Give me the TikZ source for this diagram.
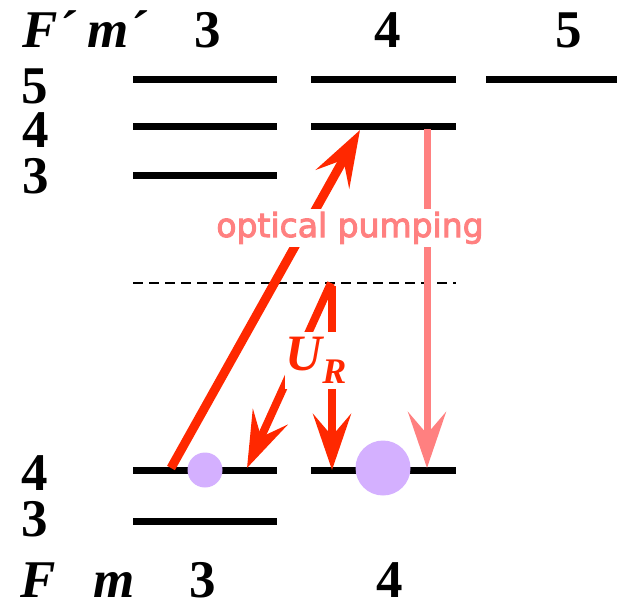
\documentclass[tikz,border=0pt]{standalone}
\usepackage{fontspec}
\setmainfont{Liberation Serif}
\newfontfamily\opfont[FakeBold=3]{DejaVu Sans}
\usetikzlibrary{arrows.meta}
\definecolor{arrred}{RGB}{255,40,0}
\definecolor{arrpink}{RGB}{255,128,128}
\definecolor{atom}{RGB}{212,176,255}
\tikzset{
  level/.style={line width=7pt},
  lbl/.style={font=\fontsize{53}{53}\selectfont\bfseries, inner sep=0pt, anchor=base},
  ilbl/.style={font=\fontsize{53}{53}\selectfont\bfseries\itshape, inner sep=0pt, anchor=base west},
  bigtip/.style={-{Stealth[length=56pt,width=38pt,inset=22pt]}},
}
\begin{document}
\begin{tikzpicture}[x=1pt,y=-1pt]
\useasboundingbox (0,0) rectangle (617,603);
% header labels
\node[ilbl] (Fp) at (22,47) {F´};
\node[ilbl] (mp) at (87,47) {m´};
\node[lbl] (mp3) at (208,47) {3};
\node[lbl] (mp4) at (388,47) {4};
\node[lbl] (mp5) at (569,47) {5};
\node[lbl] (Fp5) at (35,103) {5};
\node[lbl] (Fp4) at (36,147) {4};
\node[lbl] (Fp3) at (36,193) {3};
\node[lbl] (F4) at (35,490) {4};
\node[lbl] (F3) at (35,536) {3};
\node[ilbl] (F) at (20,597) {F};
\node[ilbl] (m) at (93,597) {m};
\node[lbl] (m3) at (203,597) {3};
\node[lbl] (m4) at (390,597) {4};
% excited levels
\draw[level] (133,79) -- (277,79);
\draw[level] (311,79) -- (456,79);
\draw[level] (486,79) -- (617,79);
\draw[level] (133,126) -- (277,126);
\draw[level] (311,126) -- (456,126);
\draw[level] (133,175) -- (277,175);
% ground levels
\draw[level] (133,470) -- (277,470);
\draw[level] (311,470) -- (456,470);
\draw[level] (133,521) -- (277,521);
% virtual level
\draw[line width=1.6pt, dash pattern=on 10pt off 6pt] (133,283) -- (456,283);
% coordinates
\coordinate (opS) at (171,468);
\coordinate (opE) at (360,130);
\coordinate (pkS) at (427,129);
\coordinate (pkE) at (427,468);
\coordinate (vA) at (331,283);
\coordinate (vB) at (332,286);
\coordinate (gL) at (247,468);
\coordinate (gR) at (332,470);
% arrows
\draw[arrred, line width=9pt, bigtip] (opS) -- (opE);
\draw[arrpink, line width=7pt, bigtip] (pkS) -- (pkE);
\draw[arrred, line width=8pt, bigtip] (vA) -- (gL);
\draw[arrred, line width=8pt, bigtip] (vB) -- (gR);
% labels with white background
\node[fill=white, inner xsep=4pt, inner ysep=3pt, text=arrpink, font=\opfont\fontsize{33}{33}\selectfont, anchor=base] (op) at (350,237) {optical pumping};
\node[fill=white, inner sep=0pt, minimum height=57pt, minimum width=62pt, text=arrred, font=\fontsize{51}{51}\selectfont\bfseries\itshape] (UR) at (316,360) {U\raisebox{-0.25em}{\fontsize{36}{36}\selectfont R}};
% atoms
\fill[atom] (205,470) circle[radius=17.5pt] coordinate (a1);
\fill[atom] (383,468) circle[radius=27.5pt] coordinate (a2);
\end{tikzpicture}
\end{document}
